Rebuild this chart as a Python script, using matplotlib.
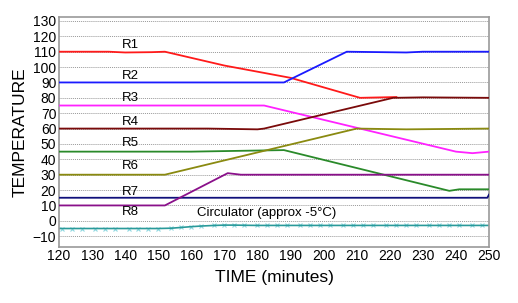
import matplotlib
matplotlib.use('Agg')
import matplotlib.pyplot as plt

plt.rcParams['font.family'] = ['Liberation Sans', 'DejaVu Sans']

# breakpoints (time in minutes, temperature)
r1_t = [120, 135, 140, 148, 152, 170, 190, 211, 222]
r1_v = [110, 110, 109.5, 109.7, 110, 101, 93, 80, 80.5]
r2_t = [120, 150, 188, 207, 225, 230, 250]
r2_v = [90, 90, 90, 110, 109.5, 110, 110]
r3_t = [120, 182, 240, 245, 250]
r3_v = [75, 75, 45, 44, 45]
r4_t = [120, 165, 180, 182, 221, 230, 250]
r4_v = [60, 60, 59.5, 60, 80, 80.3, 80]
r5_t = [120, 160, 188, 238, 241, 250]
r5_v = [45, 45, 46, 19.5, 20.5, 20.5]
r6_t = [120, 152, 210, 225, 250]
r6_v = [30, 30, 60, 59.5, 60]
r7_t = [120, 249.5, 250]
r7_v = [15, 15, 17]
r8_t = [120, 152, 171, 175, 250]
r8_v = [10, 10, 31, 30, 30]
circ_t = [121, 124, 127, 131, 134, 137, 141, 144, 147, 150, 154, 157, 160,
          163, 167, 170, 173, 176, 180, 183, 186, 189, 193, 196, 199, 202,
          206, 209, 212, 215, 219, 222, 225, 228, 232, 235, 238, 241, 245, 248]
circ_v = [-5, -5, -5, -5, -5, -5, -5, -5, -5, -5, -4.8, -4.3, -3.8,
          -3.4, -3, -2.8, -2.8, -2.9, -3, -3, -3, -3, -3, -3, -3, -3,
          -3, -3, -3, -3, -3, -3, -3, -3, -3, -3, -3, -3, -3, -3]

series = [
    (r1_t, r1_v, '#ff1a1a'),
    (r2_t, r2_v, '#1a1aff'),
    (r3_t, r3_v, '#ff22ff'),
    (r4_t, r4_v, '#7a0a0a'),
    (r5_t, r5_v, '#2a8a2a'),
    (r6_t, r6_v, '#8a8a10'),
    (r7_t, r7_v, '#10107a'),
    (r8_t, r8_v, '#8a108a'),
]

labels = ['R1', 'R2', 'R3', 'R4', 'R5', 'R6', 'R7', 'R8']
label_y = [114.5, 94, 80, 64, 50.5, 35.5, 19, 6]

fig = plt.figure(figsize=(5.18, 3.03), dpi=100)
ax = fig.add_axes([0.114, 0.186, 0.830, 0.757])

for y in range(-10, 131, 10):
    ax.axhline(y, color='#999999', lw=0.7, ls=(0, (1, 1)), zorder=0)

ax.plot(circ_t, circ_v, ls='none', marker='x', ms=3.5, mew=0.8,
        color='#8fd8e0', zorder=1)
ax.plot([120] + circ_t + [250], [-5] + circ_v + [-3], color='#2a9a9a', lw=1.2, zorder=2)

for t, v, c in series:
    ax.plot(t, v, color=c, lw=1.3, zorder=3)

for lab, y in zip(labels, label_y):
    ax.text(141.5, y, lab, ha='center', va='center', fontsize=9.5)
ax.text(161.7, 5, 'Circulator (approx -5°C)', ha='left', va='center', fontsize=9.5)

ax.set_xlim(120, 250)
ax.set_ylim(-16.8, 132.4)
ax.set_xticks(range(120, 251, 10))
ax.set_yticks(range(-10, 131, 10))
ax.tick_params(length=0, labelsize=10, pad=2)
for s in ax.spines.values():
    s.set_color('#999999')
    s.set_linewidth(1.2)

ax.set_xlabel('TIME (minutes)', fontsize=12.5, labelpad=5)
ax.set_ylabel('TEMPERATURE', fontsize=12.5, labelpad=4)

fig.savefig('out.png', dpi=100)
